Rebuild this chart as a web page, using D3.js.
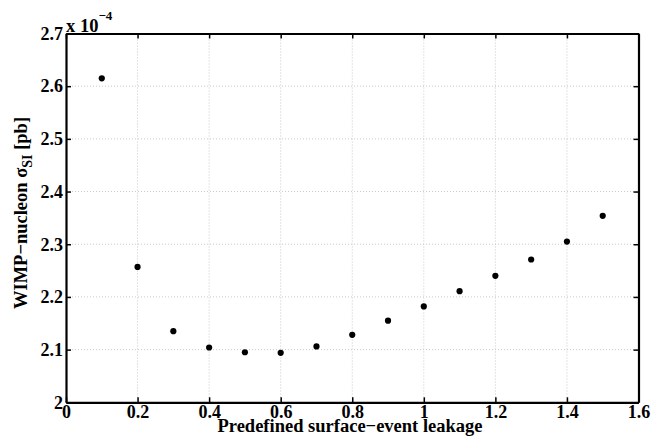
<!DOCTYPE html>
<html><head><meta charset="utf-8">
<script src="https://cdn.jsdelivr.net/npm/d3@7"></script>
<style>body{margin:0;background:#fff}svg{display:block}text{font-family:"Liberation Serif","Times New Roman",serif;font-weight:bold}</style>
</head><body><svg id="c" width="653" height="440"></svg>
<script>
const leakage = [0.1,0.2,0.3,0.4,0.5,0.6,0.7,0.8,0.9,1.0,1.1,1.2,1.3,1.4,1.5];
const sigma = [2.615,2.257,2.135,2.104,2.095,2.094,2.106,2.128,2.155,2.182,2.211,2.240,2.271,2.305,2.354];
const xTicks = [0,0.2,0.4,0.6,0.8,1,1.2,1.4,1.6];
const yTicks = [2,2.1,2.2,2.3,2.4,2.5,2.6,2.7];

const svg = d3.select("#c");
const L=66, R=638.5, T=33.5, B=402.3;
const x = d3.scaleLinear().domain([0,1.6]).range([L,R]);
const y = d3.scaleLinear().domain([2,2.7]).range([B,T]);

const g = svg.append("g");
// grid
g.selectAll(".gx").data(xTicks.slice(1,-1)).join("line")
 .attr("x1",d=>x(d)).attr("x2",d=>x(d)).attr("y1",T).attr("y2",B)
 .attr("stroke","#c8c8c8").attr("stroke-width",1).attr("stroke-dasharray","1,2");
g.selectAll(".gy").data(yTicks.slice(1,-1)).join("line")
 .attr("y1",d=>y(d)).attr("y2",d=>y(d)).attr("x1",L).attr("x2",R)
 .attr("stroke","#c8c8c8").attr("stroke-width",1).attr("stroke-dasharray","1,2");

// axes
const fmt = d=>String(+d.toFixed(1));
const ax = d3.axisBottom(x).tickValues(xTicks).tickFormat(fmt).tickSizeInner(-5).tickSizeOuter(0).tickPadding(3);
const ay = d3.axisLeft(y).tickValues(yTicks).tickFormat(fmt).tickSizeInner(-5).tickSizeOuter(0).tickPadding(3);
const axT = d3.axisTop(x).tickValues(xTicks).tickFormat("").tickSizeInner(-5).tickSizeOuter(0);
const ayR = d3.axisRight(y).tickValues(yTicks).tickFormat("").tickSizeInner(-5).tickSizeOuter(0);
function style(sel){
  sel.select(".domain").attr("stroke","#000").attr("stroke-width",2.2);
  sel.selectAll(".tick line").attr("stroke","#000").attr("stroke-width",1.5);
  sel.selectAll("text").attr("font-size",18).attr("fill","#000").attr("font-family",'"Liberation Serif",serif').attr("font-weight","bold");
}
svg.append("g").attr("transform",`translate(0,${B})`).call(ax).call(style);
svg.append("g").attr("transform",`translate(${L},0)`).call(ay).call(style);
svg.append("g").attr("transform",`translate(0,${T})`).call(axT).call(style);
svg.append("g").attr("transform",`translate(${R},0)`).call(ayR).call(style);

// points
svg.append("g").selectAll("circle").data(leakage).join("circle")
 .attr("cx",d=>x(d)).attr("cy",(d,i)=>y(sigma[i])).attr("r",3.1).attr("fill","#000");

// exponent
const ex = svg.append("text").attr("x",66).attr("y",32).attr("font-size",18.5).attr("fill","#000");
ex.append("tspan").text("x 10");
ex.append("tspan").attr("dy",-12).attr("font-size",13).text("\u22124");

// x label
svg.append("text").attr("x",350).attr("y",432).attr("text-anchor","middle").attr("font-size",18.5).text("Predefined surface\u2212event leakage");

// y label
const yl = svg.append("text").attr("transform",`translate(27,213) rotate(-90)`).attr("text-anchor","middle").attr("font-size",18.5);
yl.append("tspan").text("WIMP\u2212nucleon \u03C3");
yl.append("tspan").attr("dy",5).attr("font-size",14).text("SI");
yl.append("tspan").attr("dy",-5).text(" [pb]");
</script></body></html>
